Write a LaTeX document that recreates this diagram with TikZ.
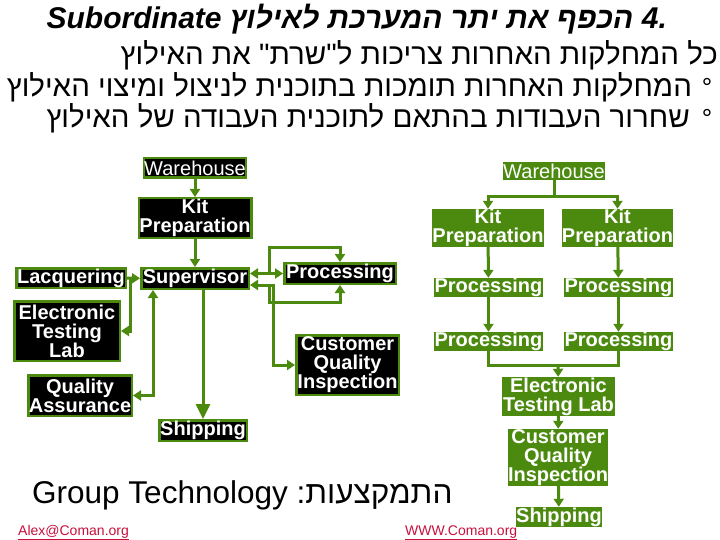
\documentclass[tikz,border=0pt]{standalone}
\usepackage{fontspec}
\setmainfont{Liberation Sans}
\newfontfamily\heb[Script=Hebrew]{Liberation Sans}
\TeXXeTstate=1
\usetikzlibrary{arrows.meta,calc}
\definecolor{grn}{RGB}{75,138,14}
\definecolor{lnk}{RGB}{200,16,60}
\begin{document}
\begin{tikzpicture}[x=1pt,y=-1pt,
  lbox/.style={draw=grn,line width=2.5pt,fill=black,text=white,font=\fontsize{20}{19}\selectfont\bfseries,align=center,inner sep=0pt},
  rbox/.style={fill=grn,text=white,font=\fontsize{20}{19}\selectfont\bfseries,align=center,inner sep=0pt},
  conn/.style={draw=grn,line width=3pt},
  arr/.style={conn,-{Triangle[length=8pt,width=10pt]}},
  bigarr/.style={conn,-{Triangle[length=15pt,width=14pt]}},
  arrb/.style={conn,{Triangle[length=8pt,width=10pt]}-{Triangle[length=8pt,width=10pt]}},
  hebt/.style={font=\heb\fontsize{29.5}{29.5}\selectfont,inner sep=0pt},
  link/.style={font=\fontsize{14}{14}\selectfont,text=lnk,inner sep=0pt}
]
\useasboundingbox (0,0) rectangle (720,540);
\fill[white] (0,0) rectangle (720,540);

% title
\node[anchor=base east,inner sep=0pt,font=\heb\fontsize{30}{30}\selectfont\bfseries\itshape] (t1) at (667,29)
  {Subordinate \beginR הכפף את יתר המערכת לאילוץ\endR{} .4};
\node[hebt,anchor=base east] (t2) at (718,65) {\beginR כל המחלקות האחרות צריכות ל"שרת\kern0pt" את האילוץ\endR};
\node[hebt,anchor=base east] (t3) at (692,97) {\beginR המחלקות האחרות תומכות בתוכנית לניצול ומיצוי האילוץ\endR};
\node[hebt,anchor=base east] (t4) at (690,128) {\beginR שחרור העבודות בהתאם לתוכנית העבודה של האילוץ\endR};
\node[hebt,anchor=base,font=\heb\fontsize{26}{26}\selectfont] (b3) at (707,97) {°};
\node[hebt,anchor=base,font=\heb\fontsize{26}{26}\selectfont] (b4) at (707,128) {°};

% left diagram
\node[lbox,minimum width=101.5pt,minimum height=19.5pt] (LW) at (195,168) {\mdseries Warehouse};
\node[lbox,minimum width=112.5pt,minimum height=39.5pt] (LK) at (195,218) {Kit\\Preparation};
\node[lbox,minimum width=107.5pt,minimum height=20.5pt] (LS) at (195,278.5) {Supervisor};
\node[lbox,minimum width=109.5pt,minimum height=19.5pt] (LL) at (71,278) {Lacquering};
\node[lbox,minimum width=105.5pt,minimum height=59.5pt] (LE) at (67,331) {Electronic\\Testing\\Lab};
\node[lbox,minimum width=103.5pt,minimum height=40.5pt] (LQ) at (80,395.5) {Quality\\Assurance};
\node[lbox,minimum width=87.5pt,minimum height=20.5pt] (LSh) at (203,430.5) {Shipping};
\node[lbox,minimum width=111.5pt,minimum height=20.5pt] (LP) at (340,273.5) {Processing};
\node[lbox,minimum width=102.5pt,minimum height=59.5pt] (LC) at (347.5,365) {Customer\\Quality\\Inspection};

\coordinate (lq) at (130,278);
\coordinate (la) at (269,274);
\coordinate (lb) at (269,285);
\coordinate (lc) at (273,285);

\draw[arr] (LW) -- (LK);
\draw[arr] (LK) -- (LS);
\draw[arr] (LL) -- (LS);
\draw[arr] (lq) |- (LE.east);
\draw[arrb] (LQ.east) -| ([xshift=-42pt]LS.south);
\draw[bigarr] (LS.south -| LSh.north) -- (LSh.north);
\draw[arrb] (LS.east |- LP.west) -- (LP.west);
\draw[arr] (la) |- ([yshift=15pt]LP.north) -- (LP.north);
\draw[arr] (lb) |- ([yshift=-17pt]LP.south) -- (LP.south);
\draw[arrb] (LS.east |- lc) -- (lc) |- (LC.west);

% right diagram
\node[rbox,minimum width=102pt,minimum height=18pt] (RW) at (554,171) {\mdseries Warehouse};
\node[rbox,minimum width=112pt,minimum height=38pt] (RK1) at (488,228) {Kit\\Preparation};
\node[rbox,minimum width=111pt,minimum height=38pt] (RK2) at (617.5,228) {Kit\\Preparation};
\node[rbox,minimum width=109pt,minimum height=19pt] (RP1) at (488.5,287.5) {Processing};
\node[rbox,minimum width=109pt,minimum height=19pt] (RP2) at (618.5,287.5) {Processing};
\node[rbox,minimum width=109pt,minimum height=19pt] (RP3) at (488.5,341.5) {Processing};
\node[rbox,minimum width=109pt,minimum height=19pt] (RP4) at (618.5,341.5) {Processing};
\node[rbox,minimum width=113pt,minimum height=39pt] (RE) at (558.5,396.5) {Electronic\\Testing Lab};
\node[rbox,minimum width=100pt,minimum height=57pt] (RC) at (558,457.5) {Customer\\Quality\\Inspection};
\node[rbox,minimum width=86pt,minimum height=20pt] (RSh) at (559,517) {Shipping};

\coordinate (rs) at (554,197);
\coordinate (rj) at (558,365);
\draw[conn] (RW) -- (rs);
\draw[arr] (rs) -| (RK1);
\draw[arr] (rs) -| (RK2);
\draw[arr] (RK1) -- (RP1);
\draw[arr] (RP1) -- (RP3);
\draw[arr] (RK2) -- (RP2);
\draw[arr] (RP2) -- (RP4);
\draw[conn] (RP3) |- (rj);
\draw[conn] (RP4) |- (rj);
\draw[arr] (rj) -- (RE);
\draw[arr] (RE) -- (RC);
\draw[arr] (RC) -- (RSh);

% footer
\node[anchor=base west,inner sep=0pt,font=\fontsize{31.5}{31.5}\selectfont] (ft) at (32,503)
  {Group Technology :\heb\beginR התמקצעות\endR};
\node[link,anchor=base west] (m1) at (18,535) {\underline{Alex@Coman.org}};
\node[link,anchor=base west] (m2) at (405,535) {\underline{WWW.Coman.org}};
\end{tikzpicture}
\end{document}
